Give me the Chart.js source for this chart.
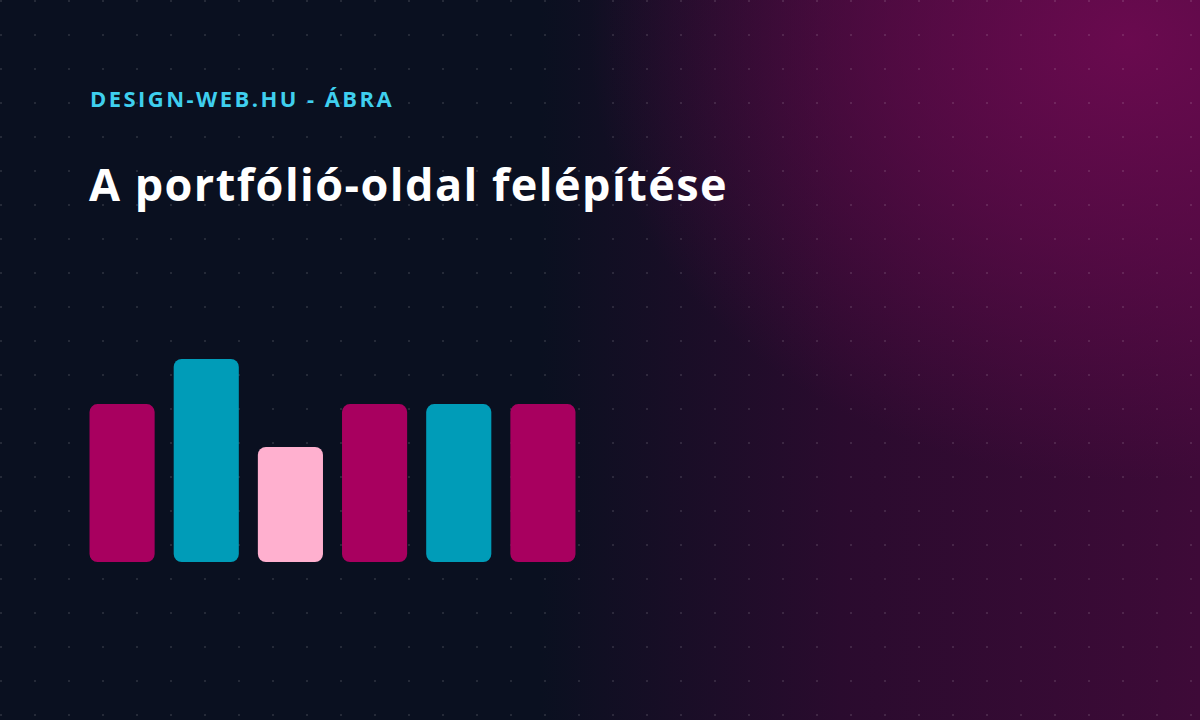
<!DOCTYPE html>
<html>
<head>
<meta charset="utf-8">
<script src="https://cdn.jsdelivr.net/npm/chart.js@4"></script>
<style>
  html, body { margin:0; padding:0; }
  body {
    width:1200px; height:720px; overflow:hidden; position:relative;
    background-color:#0a1020;
    background-image:
      radial-gradient(ellipse 540px 440px at 1130px 40px, rgba(108,10,80,0.95) 0%, rgba(108,10,80,0.55) 45%, rgba(108,10,80,0) 100%),
      linear-gradient(90deg, #0a1020 0%, #0a1020 45%, #2a0b2e 70%, #3e0a38 100%);
    font-family: "Open Sans", "Noto Sans", sans-serif;
  }
  #dots {
    position:absolute; left:0; top:0; width:1200px; height:720px;
    background-image: radial-gradient(circle, rgba(255,255,255,0.11) 0.8px, rgba(255,255,255,0) 1.4px);
    background-size:34px 34px;
    background-position:18px 18px;
  }
  #kicker {
    position:absolute; left:90px; top:83px; margin:0;
    color:#3fcfee; font-weight:700; font-size:22px; letter-spacing:2.45px;
  }
  #title {
    position:absolute; left:89px; top:153px; margin:0;
    color:#ffffff; font-weight:700; font-size:45px; letter-spacing:1.45px;
  }
  #wrap { position:absolute; left:80px; top:359px; width:505px; height:203px; }
</style>
</head>
<body>
<div id="dots"></div>
<div id="kicker">DESIGN-WEB.HU - ÁBRA</div>
<div id="title">A portfólió-oldal felépítése</div>
<div id="wrap"><canvas id="c"></canvas></div>
<script>
const categories = ["1", "2", "3", "4", "5", "6"];
const values = [7, 9, 5.1, 7, 7, 7];
const barColors = ["#a8005f", "#009cb8", "#ffb0cf", "#a8005f", "#009cb8", "#a8005f"];

new Chart(document.getElementById("c"), {
  type: "bar",
  data: {
    labels: categories,
    datasets: [{
      data: values,
      backgroundColor: barColors,
      borderRadius: 8,
      borderSkipped: false,
      barPercentage: 1,
      categoryPercentage: 65 / 84
    }]
  },
  options: {
    responsive: true,
    maintainAspectRatio: false,
    animation: false,
    layout: { padding: 0 },
    plugins: { legend: { display: false }, tooltip: { enabled: false } },
    scales: {
      x: { display: false },
      y: { display: false, min: 0, max: 9 }
    }
  }
});
</script>
</body>
</html>
